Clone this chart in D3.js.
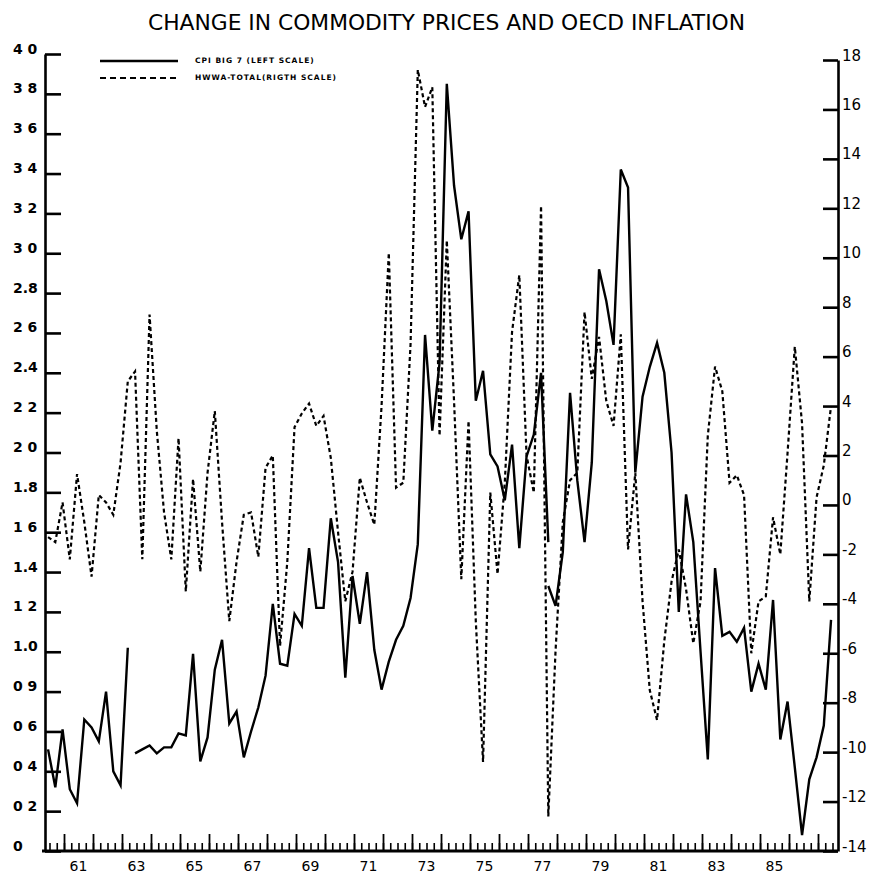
<!DOCTYPE html>
<html>
<head>
<meta charset="utf-8">
<script src="https://cdn.jsdelivr.net/npm/d3@7"></script>
<style>
  body { margin: 0; background: #fff; }
  text { fill: #000; }
</style>
</head>
<body>
<div id="chart"></div>
<script>
// quarterly data, first point = 1960 Q2
const title = "CHANGE IN COMMODITY PRICES AND OECD INFLATION";
const firstQuarter = 1960.45;

// CPI big 7 (left scale), three pieces because the series breaks
const cpi60 = [0.51, 0.32, 0.61, 0.31, 0.24, 0.66, 0.62, 0.55, 0.80, 0.40, 0.33, 1.02];
const cpi63 = [0.49, 0.51, 0.53, 0.49, 0.52, 0.52, 0.59, 0.58,
  0.99, 0.45, 0.57, 0.91, 1.06, 0.64, 0.70, 0.47, 0.60, 0.72,
  0.88, 1.24, 0.94, 0.93, 1.19, 1.13, 1.52, 1.22, 1.22, 1.67,
  1.45, 0.87, 1.38, 1.14, 1.40, 1.01, 0.81, 0.95, 1.06, 1.13,
  1.27, 1.54, 2.59, 2.11, 2.45, 3.85, 3.34, 3.07, 3.21, 2.26,
  2.41, 1.99, 1.93, 1.76, 2.04, 1.52, 1.98, 2.09, 2.40, 1.55];
const cpi77 = [1.33, 1.23, 1.50, 2.30, 1.86, 1.55, 1.95, 2.92, 2.76, 2.54,
  3.42, 3.33, 1.90, 2.28, 2.43, 2.55, 2.40, 2.00, 1.20, 1.79,
  1.55, 1.00, 0.46, 1.42, 1.08, 1.10, 1.05, 1.12, 0.80, 0.94,
  0.81, 1.26, 0.56, 0.75, 0.42, 0.08, 0.36, 0.47, 0.63, 1.16];

// HWWA total (right scale)
const hwwa = [-1.3, -1.5, 0.1, -2.2, 1.25, -0.7, -2.9, 0.4, 0.1, -0.4,
  1.7, 5.0, 5.4, -2.2, 7.7, 3.0, -0.3, -2.2, 2.7, -3.5,
  1.05, -2.7, 1.3, 3.8, -0.7, -4.7, -2.3, -0.4, -0.3, -2.1,
  1.5, 2.0, -5.7, -2.3, 3.15, 3.7, 4.1, 3.2, 3.6, 1.9,
  -1.1, -3.9, -2.7, 1.1, 0.1, -0.8, 4.0, 10.2, 0.7, 0.9,
  6.5, 17.6, 16.1, 16.9, 2.8, 10.7, 4.2, -3.0, 3.4, -4.7,
  -10.4, 0.5, -2.8, 0.9, 7.0, 9.3, 2.0, 0.5, 12.1, -12.6,
  -5.9, -0.7, 1.0, 1.3, 7.8, 5.1, 6.8, 4.2, 3.2, 6.9,
  -1.8, 1.3, -3.9, -7.5, -8.7, -5.5, -3.1, -1.8, -3.4, -5.6,
  -3.9, 2.8, 5.6, 4.6, 0.9, 1.2, 0.4, -6.0, -3.9, -3.7,
  -0.5, -2.0, 2.1, 6.4, 3.3, -3.9, 0.3, 1.6, 4.0];

const leftTicks = [0, 0.2, 0.4, 0.6, 0.8, 1.0, 1.2, 1.4, 1.6, 1.8, 2.0, 2.2, 2.4, 2.6, 2.8, 3.0, 3.2, 3.4, 3.6, 3.8, 4.0];
const leftLabels = ["0", "0 2", "0 4", "0 6", "0 9", "1.0", "1 2", "1.4", "1 6", "1.8", "2 0",
  "2 2", "2.4", "2 6", "2.8", "3 0", "3 2", "3 4", "3 6", "3 8", "4 0"];
const rightTicks = [-14, -12, -10, -8, -6, -4, -2, 0, 2, 4, 6, 8, 10, 12, 14, 16, 18];
const yearTicks = [1961, 1962, 1963, 1964, 1965, 1966, 1967, 1968, 1969, 1970, 1971, 1972, 1973,
  1974, 1975, 1976, 1977, 1978, 1979, 1980, 1981, 1982, 1983, 1984, 1985, 1986, 1987];
const yearLabels = ["61", "63", "65", "67", "69", "71", "73", "75", "77", "79", "81", "83", "85"];
const legendItems = ["CPI BIG 7 (LEFT SCALE)", "HWWA-TOTAL(RIGTH SCALE)"];

const width = 869, height = 873;
const left = 45, right = 838, bottom = 851;

const svg = d3.select("#chart").append("svg")
  .attr("width", width)
  .attr("height", height);

const x = d3.scaleLinear().domain([1960, 1987]).range([35, 818]);
const yL = d3.scaleLinear().domain([0, 4]).range([bottom, 54]);
const yR = d3.scaleLinear().domain([-14, 18]).range([bottom, 60]);

const font = "'DejaVu Sans', sans-serif";

// title
svg.append("text")
  .attr("x", 148).attr("y", 30)
  .attr("textLength", 597)
  .attr("lengthAdjust", "spacingAndGlyphs")
  .style("font-family", "'DejaVu Sans Condensed', 'DejaVu Sans', sans-serif")
  .style("font-size", "22px")
  .style("font-weight", "200")
  .text(title);

// left axis, ticks pointing inward
const gL = svg.append("g")
  .attr("transform", `translate(${left},0)`)
  .call(d3.axisRight(yL).tickValues(leftTicks).tickSize(16).tickSizeOuter(0).tickFormat(""));
gL.select(".domain").attr("stroke-width", 2.6);
gL.selectAll(".tick line").attr("stroke-width", 2.6);

svg.append("g").selectAll("text")
  .data(leftTicks)
  .join("text")
  .attr("x", 13)
  .attr("y", d => yL(d) - 0.5)
  .style("font-family", font)
  .style("font-size", "14px")
  .style("font-weight", "bold")
  .text((d, i) => leftLabels[i]);

// right axis
const gR = svg.append("g")
  .attr("transform", `translate(${right},0)`)
  .call(d3.axisLeft(yR).tickValues(rightTicks).tickSize(15).tickSizeOuter(0).tickFormat(""));
gR.select(".domain").attr("stroke-width", 2.6);
gR.selectAll(".tick line").attr("stroke-width", 2.6);

svg.append("g").selectAll("text")
  .data(rightTicks)
  .join("text")
  .attr("x", 842)
  .attr("y", d => yR(d) + 0.5)
  .style("font-family", font)
  .style("font-size", "15px")
  .text(d => d);

// bottom axis: quarters small, years tall
const quarters = d3.range(1960.5, 1987.6, 0.25);
svg.append("line")
  .attr("x1", 42).attr("x2", right)
  .attr("y1", bottom).attr("y2", bottom)
  .attr("stroke", "#000").attr("stroke-width", 3);

const gB = svg.append("g").attr("transform", `translate(0,${bottom})`);
gB.call(d3.axisTop(x).tickValues(quarters).tickSize(8).tickSizeOuter(0).tickFormat(""));
gB.select(".domain").remove();
gB.selectAll(".tick line").attr("stroke-width", 1.6);
const gY = svg.append("g").attr("transform", `translate(0,${bottom})`);
gY.call(d3.axisTop(x).tickValues(yearTicks).tickSize(17).tickSizeOuter(0).tickFormat(""));
gY.select(".domain").remove();
gY.selectAll(".tick line").attr("stroke-width", 1.8);

svg.append("g").selectAll("text")
  .data(yearLabels)
  .join("text")
  .attr("x", d => x(1900 + (+d) + 0.5))
  .attr("y", 870.5)
  .attr("text-anchor", "middle")
  .style("font-family", font)
  .style("font-size", "14px")
  .text(d => d);

// series
const toPoints = (arr, offset) => arr.map((v, i) => ({ t: firstQuarter + (offset + i) * 0.25, v }));

const lineL = d3.line().x(d => x(d.t)).y(d => yL(d.v));
const lineR = d3.line().x(d => x(d.t)).y(d => yR(d.v));

svg.append("path")
  .datum(toPoints(hwwa, 0))
  .attr("d", lineR)
  .attr("fill", "none")
  .attr("stroke", "#000")
  .attr("stroke-width", 2.2)
  .attr("stroke-dasharray", "4,3");

[[cpi60, 0], [cpi63, 12], [cpi77, 69]].forEach(([arr, off]) => {
  svg.append("path")
    .datum(toPoints(arr, off))
    .attr("d", lineL)
    .attr("fill", "none")
    .attr("stroke", "#000")
    .attr("stroke-width", 2.4)
    .attr("stroke-linejoin", "miter");
});

// legend
const leg = svg.append("g");
leg.append("line").attr("x1", 100).attr("x2", 178).attr("y1", 61).attr("y2", 61)
  .attr("stroke", "#000").attr("stroke-width", 2.4);
leg.append("line").attr("x1", 100).attr("x2", 178).attr("y1", 78).attr("y2", 78)
  .attr("stroke", "#000").attr("stroke-width", 2).attr("stroke-dasharray", "6,4");
leg.selectAll("text")
  .data(legendItems)
  .join("text")
  .attr("x", 195)
  .attr("y", (d, i) => 63 + i * 17)
  .style("font-family", font)
  .style("font-size", "7.5px")
  .style("font-weight", "bold")
  .style("letter-spacing", "1px")
  .text(d => d);
</script>
</body>
</html>
